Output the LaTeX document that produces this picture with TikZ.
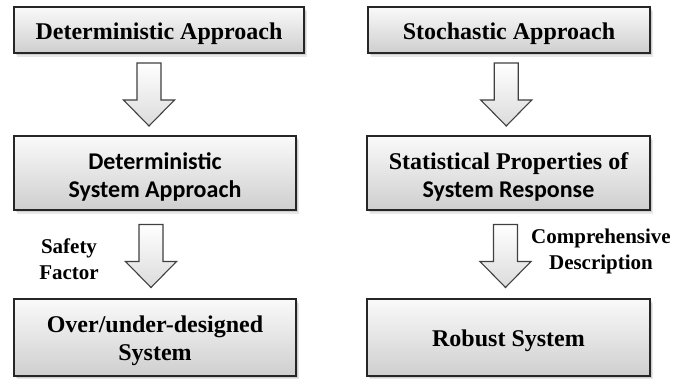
\documentclass[tikz,border=0pt]{standalone}
\usepackage{fontspec}
\setmainfont{Liberation Serif}
\newfontfamily\calib{Carlito}
\usetikzlibrary{shadows,calc}
\tikzset{
  boxnode/.style={draw=black!85, line width=1.1pt, top color=gray!4, bottom color=gray!38,
    inner sep=0pt,
    drop shadow={opacity=0.18, shadow xshift=3pt, shadow yshift=-4pt},
    drop shadow={opacity=0.25, shadow xshift=1.5pt, shadow yshift=-2pt}},
  boxtext/.style={align=center, inner sep=0pt, text=black,
    font=\fontsize{24}{28}\selectfont\bfseries},
  labnode/.style={align=center, inner sep=0pt, text=black,
    font=\fontsize{21}{26}\selectfont\bfseries},
  arrowstyle/.style={draw=black!75, line width=1.1pt, top color=white, bottom color=gray!28}
}
\newcommand\blockarr[1]{%
  \draw[arrowstyle] ($(#1)+(-12,-31.5)$) -- ($(#1)+(12,-31.5)$) -- ($(#1)+(12,5.5)$)
    -- ($(#1)+(25.5,5.5)$) -- ($(#1)+(0,31.5)$) -- ($(#1)+(-25.5,5.5)$)
    -- ($(#1)+(-12,5.5)$) -- cycle;}
\begin{document}
\begin{tikzpicture}[x=1pt,y=-1pt]
\useasboundingbox (0,0) rectangle (673,379);
% left column
\node[boxnode, minimum width=290pt, minimum height=46pt] (A1) at (159,30) {};
\node[boxnode, minimum width=282pt, minimum height=74pt] (A2) at (155,173) {};
\node[boxnode, minimum width=282pt, minimum height=77pt] (A3) at (155,337.5) {};
% right column
\node[boxnode, minimum width=282pt, minimum height=46pt] (B1) at (509,30) {};
\node[boxnode, minimum width=283pt, minimum height=74pt] (B2) at (508.5,173) {};
\node[boxnode, minimum width=283pt, minimum height=77pt] (B3) at (508.5,337.5) {};
% box texts
\node[boxtext] (A1t) at ($(A1.center)+(0,3.5)$) {Deterministic Approach};
\node[boxtext] (A2t) at ($(A2.center)+(0,3.5)$) {{\calib Deterministic}\\{\calib System Approach}};
\node[boxtext] (A3t) at ($(A3.center)+(0,3.5)$) {Over/under-designed\\System};
\node[boxtext] (B1t) at ($(B1.center)+(0,3.5)$) {Stochastic Approach};
\node[boxtext] (B2t) at ($(B2.center)+(0,3.5)$) {Statistical Properties of\\{\calib System Response}};
\node[boxtext] (B3t) at ($(B3.center)+(0,3.5)$) {Robust System};
% arrows
\path (A1.south) -- (A2.north) coordinate[pos=0.5] (mA1);
\path (A2.south) -- (A3.north) coordinate[pos=0.5] (mA2);
\path (B1.south) -- (B2.north) coordinate[pos=0.5] (mB1);
\path (B2.south) -- (B3.north) coordinate[pos=0.5] (mB2);
\coordinate (cA1) at ($(mA1)+(-8,0)$);
\coordinate (cA2) at ($(mA2)+(-4,1.5)$);
\coordinate (cB1) at ($(mB1)+(-2.5,0)$);
\coordinate (cB2) at ($(mB2)+(-3,1.5)$);
\blockarr{cA1}
\blockarr{cA2}
\blockarr{cB1}
\blockarr{cB2}
% labels
\node[labnode] (LS) at (69,259) {Safety\\Factor};
\node[labnode] (LC) at (601,251) {Comprehensive\\Description};
\end{tikzpicture}
\end{document}
